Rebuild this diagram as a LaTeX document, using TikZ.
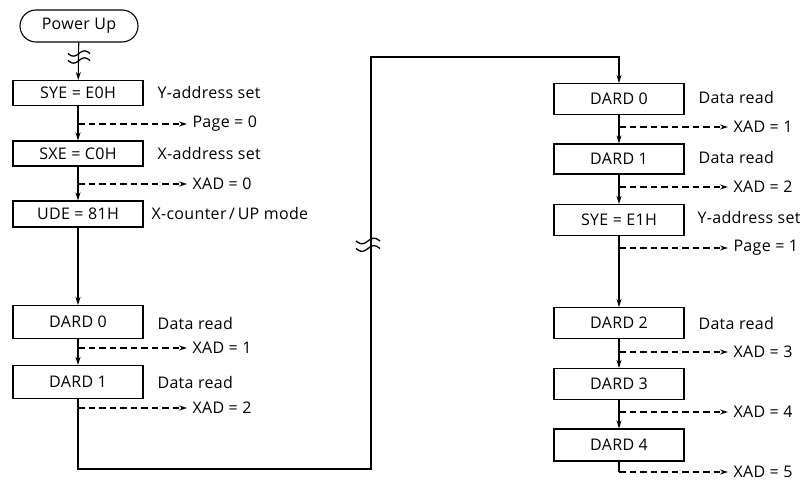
\documentclass[tikz,border=0pt]{standalone}
\usepackage{fontspec}
\setmainfont{Open Sans}[LetterSpace=2]
\usetikzlibrary{arrows.meta,shapes.misc}
\begin{document}
\begin{tikzpicture}[x=1pt,y=-1pt,
  font=\fontsize{16}{19}\selectfont,
  line width=1.1pt,
  box/.style={draw,minimum width=130pt,inner sep=0pt},
  term/.style={draw,rounded rectangle,minimum width=118pt,minimum height=32pt,inner sep=0pt},
  side/.style={anchor=west,inner sep=0pt},
  res/.style={anchor=west,inner xsep=5pt,inner ysep=0pt},
  arr/.style={-{Stealth[length=8pt,width=5pt]}},
  darr/.style={dash pattern=on 6.5pt off 4pt,-{Stealth[length=8pt,width=5pt]}},
  squig/.style={line width=1.3pt}]
\useasboundingbox (0,0) rectangle (806,481);

% ---------- left column ----------
\node[term] (pu) at (79,26) {Power Up};
\node[box,minimum height=25pt] (sye0) at (78,93) {SYE = E0H};
\node[box,minimum height=25pt] (sxe) at (78,153.5) {SXE = C0H};
\node[box,minimum height=26pt] (ude) at (78,214) {UDE = 81H};
\node[box,minimum height=33pt] (ld0) at (78,322) {DARD 0};
\node[box,minimum height=33pt] (ld1) at (78,382) {DARD 1};

\node[side] (lsye0) at (157,93) {Y-address set};
\node[side] (lsxe) at (157,153.5) {X-address set};
\node[side] (lude) at (151,214) {X-counter\,/\,UP mode};
\node[side] (lld0) at (157,323) {Data read};
\node[side] (lld1) at (157,382) {Data read};

\node[res] (rp0) at (187,124) {Page = 0};
\node[res] (rx0) at (187,184) {XAD = 0};
\node[res] (rx1) at (187,348) {XAD = 1};
\node[res] (rx2) at (187,408) {XAD = 2};

\coordinate (bp0) at (78,124);
\coordinate (bx0) at (78,184);
\coordinate (bx1) at (78,348);
\coordinate (bx2) at (78,408);

\draw[arr] (pu) -- (sye0);
\draw[arr] (sye0) -- (sxe);
\draw[arr] (sxe) -- (ude);
\draw[arr] (ude) -- (ld0);
\draw[arr] (ld0) -- (ld1);
\draw[darr] (bp0) -- (rp0.west);
\draw[darr] (bx0) -- (rx0.west);
\draw[darr] (bx1) -- (rx1.west);
\draw[darr] (bx2) -- (rx2.west);

% squiggle on first connector
\draw[squig] plot[domain=-11:11,smooth,samples=25] ({79+\x},{53.5-2.6*sin(\x*360/22)});
\draw[squig] plot[domain=-11:11,smooth,samples=25] ({79+\x},{60.5-2.6*sin(\x*360/22)});

% ---------- loop connector ----------
\coordinate (cA) at (371,469);
\coordinate (cB) at (371,57);

% ---------- right column ----------
\node[box,minimum height=31pt] (rd0) at (619,99) {DARD 0};
\node[box,minimum height=30pt] (rd1) at (619,159) {DARD 1};
\node[box,minimum height=31pt] (sye1) at (619,220) {SYE = E1H};
\node[box,minimum height=31pt] (rd2) at (619,323) {DARD 2};
\node[box,minimum height=31pt] (rd3) at (619,384) {DARD 3};
\node[box,minimum height=32pt] (rd4) at (619,445) {DARD 4};

\node[side] (lrd0) at (698,98) {Data read};
\node[side] (lrd1) at (698,158) {Data read};
\node[side] (lsye1) at (697,218) {Y-address set};
\node[side] (lrd2) at (698,323) {Data read};

\node[res] (sx1) at (728,127) {XAD = 1};
\node[res] (sx2) at (728,187) {XAD = 2};
\node[res] (sp1) at (728,248) {Page = 1};
\node[res] (sx3) at (728,352) {XAD = 3};
\node[res] (sx4) at (728,412) {XAD = 4};
\node[res] (sx5) at (728,472) {XAD = 5};

\coordinate (ex1) at (619,127);
\coordinate (ex2) at (619,187);
\coordinate (ep1) at (619,248);
\coordinate (ex3) at (619,352);
\coordinate (ex4) at (619,412);
\coordinate (ex5) at (619,472);

\draw[arr] (ld1.south) |- (cA) -- (cB) -| (rd0.north);

\draw[arr] (rd0) -- (rd1);
\draw[arr] (rd1) -- (sye1);
\draw[arr] (sye1) -- (rd2);
\draw[arr] (rd2) -- (rd3);
\draw[arr] (rd3) -- (rd4);
\draw (rd4.south) -- (ex5);

\draw[darr] (ex1) -- (sx1.west);
\draw[darr] (ex2) -- (sx2.west);
\draw[darr] (ep1) -- (sp1.west);
\draw[darr] (ex3) -- (sx3.west);
\draw[darr] (ex4) -- (sx4.west);
\draw[darr] (ex5) -- (sx5.west);

% squiggle on long connector
\draw[squig] plot[domain=-12:12,smooth,samples=25] ({368+\x},{241-2.8*sin(\x*360/24)});
\draw[squig] plot[domain=-12:12,smooth,samples=25] ({368+\x},{248.5-2.8*sin(\x*360/24)});
\end{tikzpicture}
\end{document}
